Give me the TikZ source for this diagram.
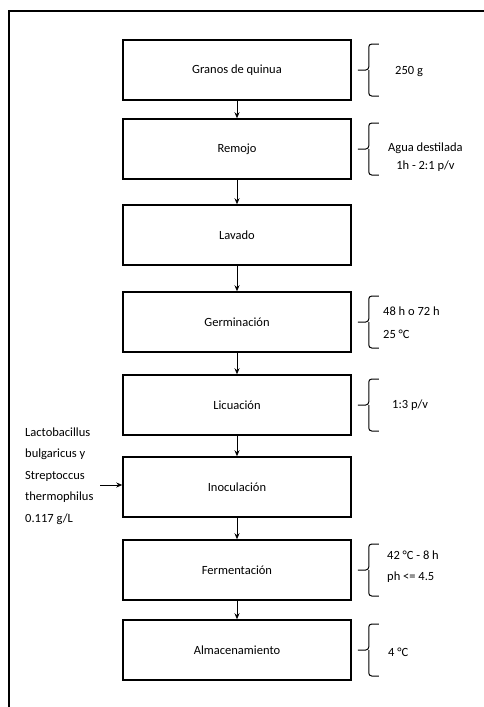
\documentclass[tikz,border=0pt]{standalone}
\usepackage{fontspec}
\setmainfont{Carlito}
\usetikzlibrary{arrows.meta}

% brace on the right side of a step
\newcommand{\llave}[1]{%
  \draw[llave] ([shift={(27pt,26pt)}]#1.east) -- ([shift={(17pt,26pt)}]#1.east)
    -- ([shift={(17pt,0pt)}]#1.east) -- ([shift={(6pt,0pt)}]#1.east);
  \draw[llave] ([shift={(17pt,0pt)}]#1.east) -- ([shift={(17pt,-26pt)}]#1.east)
    -- ([shift={(27pt,-26pt)}]#1.east);}

\begin{document}
\begin{tikzpicture}[x=1pt, y=-1pt,
    paso/.style={draw, line width=1.5pt, minimum width=228pt, minimum height=60pt, inner sep=0pt, font=\fontsize{12.5}{15}\selectfont},
    flecha/.style={-{Stealth[length=6pt, width=5pt]}, line width=0.8pt},
    llave/.style={line width=1pt, rounded corners=3pt},
    nota/.style={anchor=west, align=left, inner sep=0pt, font=\fontsize{12.5}{#1}\selectfont},
    nota/.default=21]
    \useasboundingbox (0,0) rectangle (484,707);
    \clip (0,0) rectangle (484,707);

    % Frame
    \draw[line width=1.5pt] (9,720) |- (500,11);

    % Steps
    \node[paso] (granos) at (237,70) {Granos de quinua};
    \node[paso] (remojo) at (237,149) {Remojo};
    \node[paso] (lavado) at (237,235) {Lavado};
    \node[paso] (germ) at (237,322) {Germinación};
    \node[paso] (licua) at (237,405) {Licuación};
    \node[paso] (inoc) at (237,487) {Inoculación};
    \node[paso] (ferm) at (237,570) {Fermentación};
    \node[paso] (almac) at (237,650) {Almacenamiento};

    \draw[flecha] (granos) -- (remojo);
    \draw[flecha] (remojo) -- (lavado);
    \draw[flecha] (lavado) -- (germ);
    \draw[flecha] (germ) -- (licua);
    \draw[flecha] (licua) -- (inoc);
    \draw[flecha] (inoc) -- (ferm);
    \draw[flecha] (ferm) -- (almac);

    % Conditions
    \llave{granos}
    \llave{remojo}
    \llave{germ}
    \llave{licua}
    \llave{ferm}
    \llave{almac}
    \node[nota] (n1) at (395,72) {250 g};
    \node[nota=18, align=center] (n2) at (388,157) {Agua destilada\\1h - 2:1 p/v};
    \node[nota=23] (n4) at (383,323) {48 h o 72 h\\25 °C};
    \node[nota] (n5) at (392,405) {1:3 p/v};
    \node[nota] (n7) at (387,567) {42 °C - 8 h\\ph <= 4.5};
    \node[nota] (n8) at (388,652) {4 °C};

    % Cultures
    \node[nota=21.5] (cultivo) at (25,476) {Lactobacillus\\bulgaricus y\\Streptoccus\\thermophilus\\0.117 g/L};
    \coordinate (entrada) at (100,485);
    \draw[flecha] (entrada) -- (entrada -| inoc.west);
\end{tikzpicture}
\end{document}
